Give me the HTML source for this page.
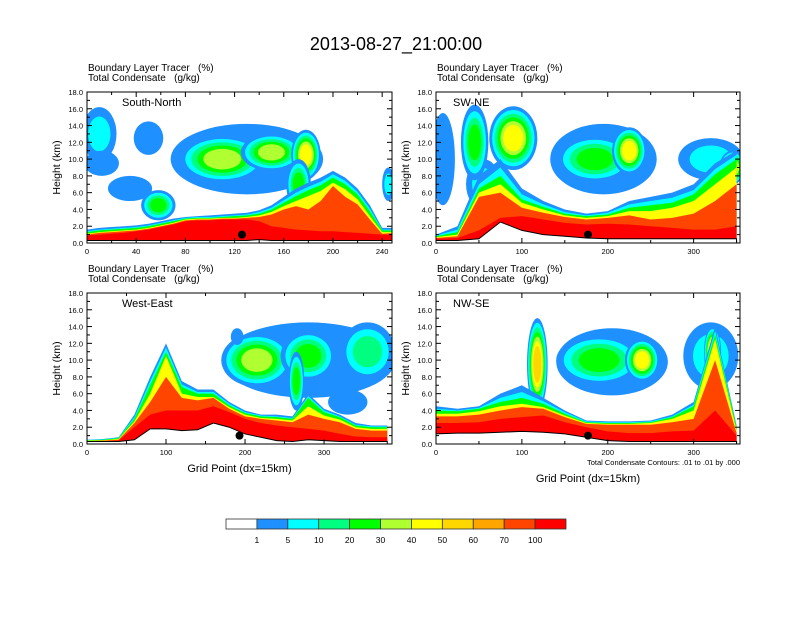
<!DOCTYPE html>
<html><head><meta charset="utf-8"><style>
body{margin:0;background:#fff;}
svg text{font-family:"Liberation Sans",sans-serif;white-space:pre;}
</style></head><body>
<svg id="fig" width="792" height="612" viewBox="0 0 792 612" xmlns="http://www.w3.org/2000/svg">
<rect width="792" height="612" fill="#fff"/>
<text x="396" y="50" font-size="18" text-anchor="middle">2013-08-27_21:00:00</text>
<g id="panels"></g>
<g id="cbar"></g>
</svg>
<script>
const levelColors = ["#ffffff","#1e90ff","#00ffff","#00ff80","#00ff00","#b0ff30","#ffff00","#ffd700","#ffa500","#ff4500","#ff0000"];
const levelLabels = ["1","5","10","20","30","40","50","60","70","100"];
const massLevels = [1,2,4,6,9,10];

// ---- panel: South-North ----
const snX = [0,10,20,30,40,50,60,70,80,90,100,110,120,130,140,150,160,170,180,190,200,210,220,230,240,250];
const snBase = [0.3,0.3,0.3,0.3,0.3,0.3,0.3,0.3,0.3,0.3,0.3,0.3,0.3,0.3,0.4,0.3,0.3,0.3,0.3,0.3,0.3,0.3,0.3,0.3,0.3,0.3];
const snT1 = [1.6,1.8,1.9,2.0,2.1,2.3,2.6,2.9,3.1,3.2,3.3,3.4,3.5,3.6,3.9,4.5,5.5,6.5,7.2,7.8,8.6,7.8,6.5,4.5,1.8,1.8];
const snT10 = [1.4,1.6,1.7,1.8,1.9,2.1,2.4,2.7,3.0,3.1,3.1,3.2,3.3,3.4,3.7,4.2,5.1,6.0,6.7,7.3,8.2,7.4,6.1,4.1,1.6,1.6];
const snT30 = [1.3,1.5,1.6,1.7,1.8,2.0,2.3,2.6,2.9,3.0,3.0,3.1,3.2,3.3,3.5,4.0,4.8,5.6,6.3,6.9,7.8,7.0,5.8,3.8,1.5,1.5];
const snT50 = [1.1,1.3,1.4,1.5,1.6,1.8,2.1,2.4,2.8,2.9,2.9,3.0,3.0,3.1,3.3,3.7,4.4,5.0,5.6,6.2,7.2,6.4,5.2,3.2,1.3,1.3];
const snT70 = [1.0,1.2,1.3,1.4,1.5,1.7,2.0,2.3,2.7,2.8,2.8,2.9,2.9,3.0,3.1,3.4,4.0,4.4,4.0,5.0,6.8,5.5,4.6,2.8,1.1,1.2];
const snT100 = [0.9,1.0,1.1,1.2,1.4,1.6,1.9,2.2,2.6,2.7,2.7,2.8,2.8,2.8,2.6,2.0,1.8,1.6,1.5,1.4,1.4,1.3,1.2,1.1,1.0,1.0];
const snBlobX = [10,12,35,58,50,130,110,150,178,172,245];
const snBlobY = [13,9.5,6.5,4.5,12.5,10,10,10.8,10.5,7,7];
const snBlobW = [14,14,18,14,12,62,35,25,12,10,5];
const snBlobH = [3.2,1.5,1.5,1.8,2.0,4.2,2.8,2.2,3.0,3,2];
const snBlobPeak = [2,1,1,4,1,1,5,5,6,4,2];

// ---- panel: SW-NE ----
const swX = [0,25,50,75,100,125,150,175,200,225,250,275,300,325,350];
const swBase = [0.3,0.3,0.5,2.5,1.5,1.0,0.8,0.6,0.5,0.5,0.5,0.5,0.5,0.5,0.5];
const swT1 = [1.0,2.0,8.0,10.0,6.5,5.0,4.0,3.5,3.8,5.0,5.5,6.0,7.0,9.5,11.0];
const swT10 = [0.9,1.6,7.0,9.0,5.8,4.6,3.7,3.3,3.6,4.6,5.0,5.4,6.3,8.8,10.5];
const swT30 = [0.8,1.3,6.5,8.0,5.2,4.3,3.5,3.2,3.4,4.2,4.5,4.8,5.8,8.2,10.0];
const swT50 = [0.7,1.0,6.0,7.0,4.8,4.0,3.3,3.0,3.2,3.8,3.8,4.2,5.0,7.0,9.0];
const swT70 = [0.6,0.8,5.5,6.0,4.2,3.6,3.1,2.8,3.0,3.3,2.8,3.0,3.5,5.0,7.0];
const swT100 = [0.5,0.6,1.5,3.0,3.2,2.8,2.4,2.2,2.3,2.2,2.0,1.8,1.6,1.6,2.0];
const swBlobX = [8,55,45,90,195,185,225,320,345];
const swBlobY = [10,7,12,12.5,10,10,11,10,9];
const swBlobW = [14,20,16,28,62,45,20,38,15];
const swBlobH = [5.5,3,4.5,3.8,4.2,2.8,2.8,2.5,2];
const swBlobPeak = [1,2,4,6,1,4,6,2,6];

// ---- panel: West-East ----
const weX = [0,20,40,60,80,100,120,140,160,180,200,220,240,260,280,300,320,340,360,380];
const weBase = [0.3,0.3,0.3,0.5,1.8,1.8,1.6,1.7,2.5,2.0,1.2,0.8,0.4,0.3,0.5,0.4,0.3,0.3,0.3,0.3];
const weT1 = [0.5,0.6,0.8,3.5,8.0,12.0,7.5,6.5,6.5,5.0,4.0,3.5,3.5,3.3,6.0,4.2,3.5,2.5,2.2,2.2];
const weT10 = [0.48,0.55,0.75,3.2,7.5,11.5,7.1,6.2,6.2,4.8,3.8,3.4,3.3,3.1,5.7,4.0,3.3,2.3,2.1,2.1];
const weT30 = [0.45,0.5,0.7,3.0,7.0,11.0,6.8,6.0,6.0,4.6,3.7,3.3,3.2,3.0,5.5,3.8,3.2,2.2,2.0,2.0];
const weT50 = [0.4,0.45,0.6,2.7,6.0,10.5,6.0,5.6,5.6,4.4,3.5,3.1,3.0,2.8,4.5,3.4,2.9,2.0,1.8,1.8];
const weT70 = [0.35,0.4,0.5,2.5,5.0,8.0,5.5,5.2,5.5,4.2,3.3,3.0,2.8,2.6,3.5,3.0,2.6,1.8,1.6,1.6];
const weT100 = [0.3,0.35,0.4,2.0,3.5,4.0,4.0,4.0,4.5,3.8,3.0,2.5,2.2,2.0,1.8,1.6,1.2,0.9,0.8,0.8];
const weBlobX = [280,215,280,355,265,190,330];
const weBlobY = [10,10,10.5,11,7.5,12.8,5];
const weBlobW = [110,45,35,35,10,8,25];
const weBlobH = [4.5,3.2,3,3.5,3.5,1,1.5];
const weBlobPeak = [1,5,4,3,4,1,1];

// ---- panel: NW-SE ----
const nwX = [0,25,50,75,100,125,150,175,200,225,250,275,300,325,350];
const nwBase = [1.2,1.3,1.3,1.4,1.5,1.4,1.2,0.8,0.4,0.3,0.3,0.3,0.3,0.3,0.3];
const nwT1 = [4.5,4.2,4.5,6.0,7.0,5.5,4.0,2.8,2.7,2.7,2.8,3.5,5.0,14.0,2.2];
const nwT10 = [4.2,4.0,4.3,5.5,6.2,5.1,3.8,2.7,2.6,2.6,2.7,3.3,4.7,13.5,2.0];
const nwT30 = [4.0,3.9,4.2,5.0,5.5,4.8,3.6,2.6,2.5,2.5,2.6,3.2,4.5,13.0,1.9];
const nwT50 = [3.6,3.6,3.9,4.5,4.8,4.4,3.4,2.5,2.4,2.4,2.5,3.0,4.0,12.5,1.6];
const nwT70 = [3.3,3.3,3.5,4.0,4.4,4.2,3.2,2.4,2.3,2.3,2.3,2.6,3.0,10.0,1.3];
const nwT100 = [2.5,2.5,2.6,3.0,3.2,3.4,2.6,2.0,1.5,1.3,1.3,1.5,1.6,4.0,1.0];
const nwBlobX = [205,190,240,118,320,322];
const nwBlobY = [9.8,10,10,9.5,10.5,11];
const nwBlobW = [65,50,20,12,32,10];
const nwBlobH = [4,3,2.5,5.5,4,3];
const nwBlobPeak = [1,4,6,7,2,7];

const panels = [
 {name:"south-north",label:"South-North",x0:87,x1:392,y0:92,y1:243,xmax:248,xticks:[0,40,80,120,160,200,240],minor:20,
  xs:snX,base:snBase,tops:[snT1,snT10,snT30,snT50,snT70,snT100],bx:snBlobX,by:snBlobY,bw:snBlobW,bh:snBlobH,bp:snBlobPeak,dot:[126,1.0],xtitle:false},
 {name:"sw-ne",label:"SW-NE",x0:436,x1:740,y0:92,y1:243,xmax:354,xticks:[0,100,200,300],minor:50,
  xs:swX,base:swBase,tops:[swT1,swT10,swT30,swT50,swT70,swT100],bx:swBlobX,by:swBlobY,bw:swBlobW,bh:swBlobH,bp:swBlobPeak,dot:[177,1.0],xtitle:false},
 {name:"west-east",label:"West-East",x0:87,x1:392,y0:293,y1:444,xmax:386,xticks:[0,100,200,300],minor:50,
  xs:weX,base:weBase,tops:[weT1,weT10,weT30,weT50,weT70,weT100],bx:weBlobX,by:weBlobY,bw:weBlobW,bh:weBlobH,bp:weBlobPeak,dot:[193,1.0],xtitle:true},
 {name:"nw-se",label:"NW-SE",x0:436,x1:740,y0:293,y1:444,xmax:354,xticks:[0,100,200,300],minor:50,
  xs:nwX,base:nwBase,tops:[nwT1,nwT10,nwT30,nwT50,nwT70,nwT100],bx:nwBlobX,by:nwBlobY,bw:nwBlobW,bh:nwBlobH,bp:nwBlobPeak,dot:[177,1.0],xtitle:true}
];
const NS="http://www.w3.org/2000/svg";
function mk(tag,attrs,parent){const e=document.createElementNS(NS,tag);for(const k in attrs)e.setAttribute(k,attrs[k]);if(parent)parent.appendChild(e);return e;}
const root=document.getElementById("panels");
const yTicks=[0,2,4,6,8,10,12,14,16,18];

panels.forEach((p,pi)=>{
  const sx=v=>p.x0+(v/p.xmax)*(p.x1-p.x0);
  const sy=v=>p.y1-(v/18)*(p.y1-p.y0);
  const g=mk("g",{},root);
  
  
  const t1=mk("text",{x:p.x0+1,y:p.y0-21,"font-size":"10"},g);t1.textContent="Boundary Layer Tracer   (%)";
  
  
  const t2=mk("text",{x:p.x0+1,y:p.y0-11,"font-size":"10"},g);t2.textContent="Total Condensate   (g/kg)";
  
  
  const cid="clip"+pi;
  const cp=mk("clipPath",{id:cid},g);mk("rect",{x:p.x0,y:p.y0,width:p.x1-p.x0,height:p.y1-p.y0},cp);
  const fg=mk("g",{"clip-path":"url(#"+cid+")"},g);
  p.bx.forEach((bx,i)=>{
    const peak=p.bp[i];
    for(let k=1;k<=peak;k++){
      const s=1-(k-1)/peak*0.7;
      const e=mk("ellipse",{cx:sx(bx),cy:sy(p.by[i]),rx:Math.abs(sx(p.bw[i]*s)-sx(0)),ry:Math.abs(sy(p.bh[i]*s)-sy(0)),fill:levelColors[k]},fg);
      
      
    }
  });
  p.tops.forEach((arr,li)=>{
    let pts=[];
    p.xs.forEach((x,i)=>pts.push(sx(x)+","+sy(arr[i])));
    for(let i=p.xs.length-1;i>=0;i--)pts.push(sx(p.xs[i])+","+sy(p.base[i]));
    const poly=mk("polygon",{points:pts.join(" "),fill:levelColors[massLevels[li]]},fg);
    
    
  });
  let tp=[sx(p.xs[0])+","+sy(0)];
  p.xs.forEach((x,i)=>tp.push(sx(x)+","+sy(p.base[i])));
  tp.push(sx(p.xs[p.xs.length-1])+","+sy(0));tp.push(p.x1+","+sy(0));
  const ter=mk("polygon",{points:tp.join(" "),fill:"#fff",stroke:"#000","stroke-width":"1"},fg);
  
  
  const dot=mk("circle",{cx:sx(p.dot[0]),cy:sy(p.dot[1]),r:4,fill:"#000"},fg);
  
  
  const fr=mk("rect",{x:p.x0,y:p.y0,width:p.x1-p.x0,height:p.y1-p.y0,fill:"none",stroke:"#000","stroke-width":"1"},g);
  
  
  const pl=mk("text",{x:p.x0+(pi%2?17:35),y:p.y0+14,"font-size":"11"},g);pl.textContent=p.label;
  
  
  yTicks.forEach(v=>{
    const y=sy(v);
    mk("line",{x1:p.x0,x2:p.x0+5,y1:y,y2:y,stroke:"#000"},g);
    mk("line",{x1:p.x1,x2:p.x1-5,y1:y,y2:y,stroke:"#000"},g);
    if(v<18){mk("line",{x1:p.x0,x2:p.x0+3,y1:sy(v+1),y2:sy(v+1),stroke:"#000"},g);mk("line",{x1:p.x1,x2:p.x1-3,y1:sy(v+1),y2:sy(v+1),stroke:"#000"},g);}
    const tl=mk("text",{x:p.x0-4,y:y+3,"font-size":"7.5","text-anchor":"end"},g);tl.textContent=v.toFixed(1);
    
    
  });
  for(let v=0;v<=p.xmax;v+=p.minor){const x=sx(v);const major=p.xticks.includes(v);
    mk("line",{x1:x,x2:x,y1:p.y1,y2:p.y1-(major?5:3),stroke:"#000"},g);
    mk("line",{x1:x,x2:x,y1:p.y0,y2:p.y0+(major?5:3),stroke:"#000"},g);}
  p.xticks.forEach(v=>{
    const tl=mk("text",{x:sx(v),y:p.y1+11,"font-size":"7.5","text-anchor":"middle"},g);tl.textContent=String(v);
    
    
  });
  const yt=mk("text",{x:0,y:0,"font-size":"10.5","text-anchor":"middle",transform:"translate("+(p.x0-27)+","+((p.y0+p.y1)/2)+") rotate(-90)"},g);yt.textContent="Height (km)";
  
  
  if(p.xtitle){
    const xt=mk("text",{x:(p.x0+p.x1)/2,y:pi==2?p.y1+28:p.y1+38,"font-size":"11","text-anchor":"middle"},g);xt.textContent="Grid Point (dx=15km)";
    
    
  }
  if(pi==3){
    const n=mk("text",{x:p.x1,y:p.y1+21,"font-size":"7.5","text-anchor":"end"},g);n.textContent="Total Condensate Contours: .01 to .01 by .000";
    
    
  }
});
const cb=document.getElementById("cbar");
const cbX0=226,cbW=340,cbY=519,cbH=10,nb=levelColors.length;
levelColors.forEach((c,i)=>{
  const r=mk("rect",{x:cbX0+i*cbW/nb,y:cbY,width:cbW/nb,height:cbH,fill:c,stroke:"#333","stroke-width":"0.8"},cb);
  
  
});
levelLabels.forEach((l,i)=>{
  const t=mk("text",{x:cbX0+(i+1)*cbW/nb,y:cbY+24,"font-size":"8.5","text-anchor":"middle"},cb);t.textContent=l;
  
  
});
</script>
</body></html>
